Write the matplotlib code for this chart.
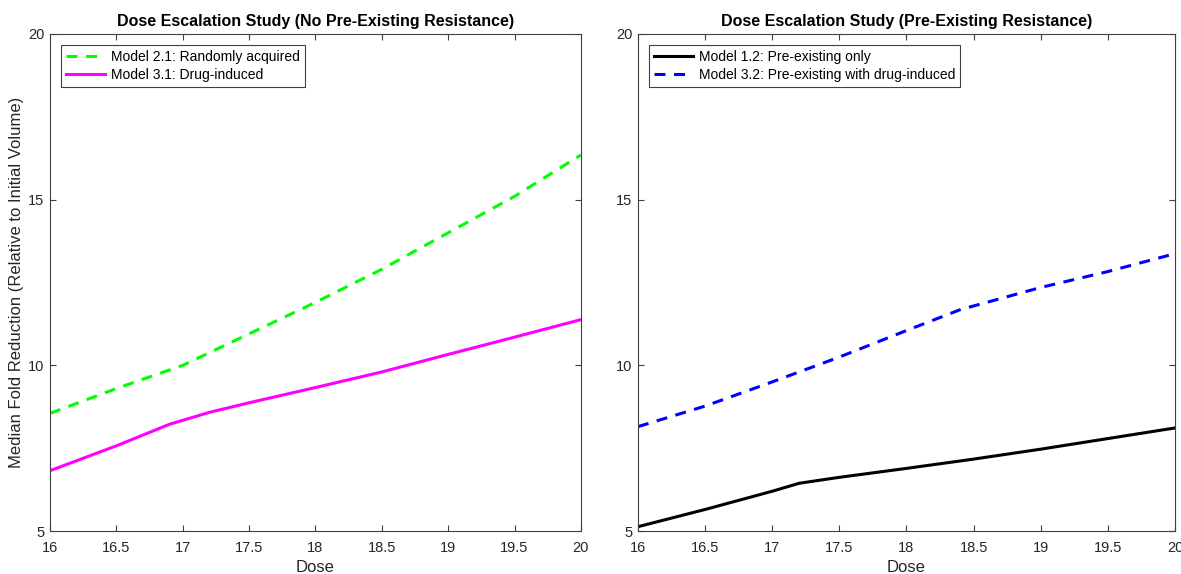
import matplotlib.pyplot as plt
import numpy as np

plt.rcParams['font.family'] = ['Liberation Sans', 'DejaVu Sans']

# left panel: no pre-existing resistance
dose_21 = [16, 16.5, 17, 17.5, 18, 18.5, 19, 19.5, 20]
fold_21 = [8.55, 9.3, 10.0, 10.95, 11.9, 12.9, 14.0, 15.1, 16.35]
dose_31 = [16, 16.5, 16.9, 17.2, 17.5, 18, 18.5, 19, 19.5, 20]
fold_31 = [6.82, 7.57, 8.22, 8.58, 8.87, 9.33, 9.8, 10.33, 10.85, 11.38]

# right panel: pre-existing resistance
dose_12 = [16, 16.5, 17, 17.2, 17.5, 18, 18.5, 19, 19.5, 20]
fold_12 = [5.13, 5.65, 6.2, 6.44, 6.62, 6.89, 7.17, 7.47, 7.79, 8.11]
dose_32 = [16, 16.5, 17, 17.2, 17.5, 18, 18.4, 19, 19.5, 20]
fold_32 = [8.15, 8.77, 9.5, 9.8, 10.25, 11.05, 11.68, 12.35, 12.83, 13.37]

xticks = [16, 16.5, 17, 17.5, 18, 18.5, 19, 19.5, 20]
xticklabels = ['16', '16.5', '17', '17.5', '18', '18.5', '19', '19.5', '20']
yticks = [5, 10, 15, 20]

axcol = '#404040'

fig = plt.figure(figsize=(11.81, 5.74), dpi=100)
ax1 = fig.add_axes((0.0423, 0.0749, 0.4496, 0.8659))
ax2 = fig.add_axes((0.5402, 0.0749, 0.4547, 0.8659))

ax1.plot(dose_21, fold_21, '--', color=(0, 1, 0), lw=2.2, dashes=(3.6, 2.8),
         label='Model 2.1: Randomly acquired')
ax1.plot(dose_31, fold_31, '-', color=(1, 0, 1), lw=2.2,
         label='Model 3.1: Drug-induced')
ax2.plot(dose_12, fold_12, '-', color='black', lw=2.2,
         label='Model 1.2: Pre-existing only')
ax2.plot(dose_32, fold_32, '--', color=(0, 0, 1), lw=2.2, dashes=(3.6, 2.8),
         label='Model 3.2: Pre-existing with drug-induced')

titles = ['Dose Escalation Study (No Pre-Existing Resistance)',
          'Dose Escalation Study (Pre-Existing Resistance)']
for ax, t in zip([ax1, ax2], titles):
    ax.set_xlim(16, 20)
    ax.set_ylim(5, 20)
    ax.set_xticks(xticks)
    ax.set_xticklabels(xticklabels)
    ax.set_yticks(yticks)
    ax.tick_params(direction='in', top=True, right=True, length=4,
                   width=0.8, color=axcol, labelcolor='#262626', labelsize=10.5)
    ax.tick_params(axis='x', pad=7)
    ax.tick_params(axis='y', pad=4)
    for s in ax.spines.values():
        s.set_color(axcol)
        s.set_linewidth(0.8)
    ax.set_title(t, fontsize=11.5, fontweight='bold', pad=6)
    ax.set_xlabel('Dose', fontsize=12, color='#262626', labelpad=4)
    leg = ax.legend(loc='upper left', fontsize=10, fancybox=False,
                    edgecolor=axcol, framealpha=1, borderaxespad=0.8,
                    handlelength=2.8, borderpad=0.35, labelspacing=0.3,
                    handletextpad=0.45)
    leg.get_frame().set_linewidth(0.8)

ax1.set_ylabel('Median Fold Reduction (Relative to Initial Volume)',
               fontsize=12, color='#262626', labelpad=3)

fig.savefig('out.png', dpi=100)
